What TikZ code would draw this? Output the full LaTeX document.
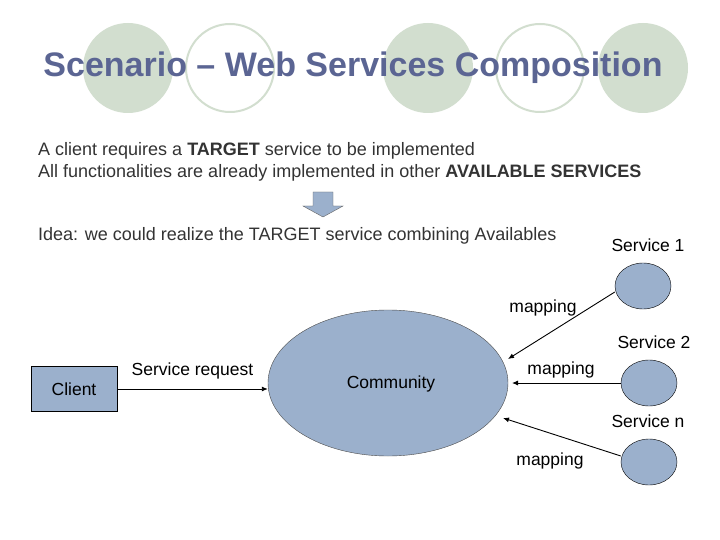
\documentclass[tikz,border=0pt]{standalone}
\usepackage{fontspec}
\setmainfont{Liberation Sans}
\usetikzlibrary{arrows.meta,shapes.geometric}
\definecolor{blu}{HTML}{9BB0CC}
\definecolor{grn}{HTML}{D2DECF}
\definecolor{ttl}{HTML}{5B6593}
\definecolor{txt}{HTML}{333333}
\begin{document}
\begin{tikzpicture}[x=1pt,y=-1pt,
  svc/.style={ellipse,draw=black,fill=blu,minimum width=56pt,minimum height=46pt,inner sep=0pt},
  arr/.style={-{Latex[length=6pt,width=5pt]},line width=0.9pt},
  lbl/.style={font=\fontsize{17.5}{20}\selectfont,text=black},
  body/.style={font=\fontsize{18}{21}\selectfont,text=txt,anchor=west,inner sep=0pt}]
\useasboundingbox (0,0) rectangle (720,540);
\fill[white] (0,0) rectangle (720,540);
\foreach \x/\f in {128/1,230/0,428/1,540/0,643/1}{
  \ifnum\f=1 \fill[grn] (\x,68) circle (45);
  \else \draw[grn,line width=2pt,fill=white] (\x,68) circle (44); \fi}
\node[font=\bfseries\fontsize{34}{40}\selectfont,text=ttl] (title) at (353,68) {Scenario -- Web Services Composition};
\node[body] (l1) at (38,151) {A client requires a \textbf{TARGET} service to be implemented};
\node[body] (l2) at (38,173) {All functionalities are already implemented in other \textbf{AVAILABLE SERVICES}};
\draw[fill=blu,draw=black!60] (313,192) -- (333,192) -- (333,206) -- (343,206) -- (323,217) -- (303,206) -- (313,206) -- cycle;
\node[body] (l3) at (38,236) {Idea: we could realize the TARGET service combining Availables};
\node[draw=black,fill=blu,minimum width=86pt,minimum height=45pt,inner sep=0pt] (client) at (74,389) {};
\node[lbl] at (client) {Client};
\node[ellipse,draw=black!70,fill=blu,minimum width=240pt,minimum height=146pt,inner sep=0pt] (comm) at (388,383) {};
\node[lbl] at (391,384) {Community};
\node[svc] (s1) at (643,286) {};
\node[svc] (s2) at (649,383) {};
\node[svc] (s3) at (649,462) {};
\node[lbl] at (648,245) {Service 1};
\node[lbl] at (654,342) {Service 2};
\node[lbl] at (648,421) {Service n};
\draw[arr] (client.east) -- (client.east-|comm.west) node[lbl,midway,above=6pt,xshift=0pt] {Service request};
\draw[arr] (s1.west|-0,292) -- (508,359);
\node[lbl] at (543,308) {mapping};
\draw[arr] (s2.west) -- (512,383);
\node[lbl] at (561,370) {mapping};
\draw[arr] (s3.west|-0,456) -- (503,418);
\node[lbl] at (550,461) {mapping};
\end{tikzpicture}
\end{document}
